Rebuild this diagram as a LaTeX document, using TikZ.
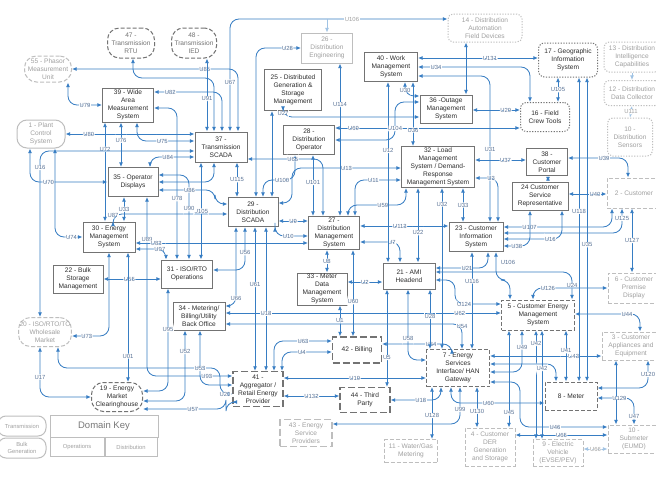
\documentclass[tikz,border=0pt]{standalone}
\usepackage{fontspec}
\setmainfont{Liberation Sans}
\usetikzlibrary{arrows.meta}
\definecolor{lnc}{RGB}{55,125,195}
\definecolor{lnfc}{RGB}{160,195,228}
\definecolor{bxc}{RGB}{115,115,115}
\definecolor{txc}{RGB}{45,45,45}
\definecolor{fdc}{RGB}{190,190,190}
\definecolor{fdtc}{RGB}{160,160,160}
\definecolor{labc}{RGB}{90,115,150}
\tikzset{
  box/.style={draw=bxc, line width=1pt, fill=white, text=txc, align=center, font=\fontsize{6.6}{7.9}\selectfont, inner sep=1pt},
  sz/.style 2 args={minimum width=#1pt, minimum height=#2pt},
  fade/.style={draw=fdc, text=fdtc},
  dsh/.style={dash pattern=on 4pt off 2pt},
  ldsh/.style={dash pattern=on 7pt off 3pt, line width=1.2pt},
  dot/.style={dash pattern=on 1.2pt off 1.5pt},
  ell/.style={rounded corners=12pt},
  ln/.style={draw=lnc, line width=0.85pt, rounded corners=9pt},
  lnf/.style={draw=lnfc, line width=0.75pt, rounded corners=9pt},
  lb/.style={font=\fontsize{5.9}{6}\selectfont, text=labc, fill=white, inner sep=0.5pt},
  lbf/.style={lb, text=fdtc},
  >={Latex[length=4.6pt,width=3.9pt]},
}
\begin{document}
\begin{tikzpicture}[x=1pt,y=-1pt]
\useasboundingbox (0,0) rectangle (656,479);
\fill[white] (0,0) rectangle (656,479);

% ---------------- nodes ----------------
\node[box,fade,dsh,ell,sz={47}{26}] (n55) at (48,69) {55 - Phasor\\Measurement\\Unit};
\node[box,dsh,ell,sz={47}{30},text=bxc] (n47) at (131,43) {47 -\\Transmission\\RTU};
\node[box,dsh,ell,sz={45}{30},text=bxc] (n48) at (194,43) {48 -\\Transmission\\IED};
\node[box,fade,sz={51}{30}] (n26) at (327,48) {26 -\\Distribution\\Engineering};
\node[box,fade,dot,rounded corners=5pt,sz={74}{28}] (n14) at (485,28) {14 - Distribution\\Automation\\Field Devices};
\node[box,sz={53}{29}] (n40) at (391,67) {40 - Work\\Management\\System};
\node[box,dot,rounded corners=6pt,sz={59}{34}] (n17) at (568,60) {17 - Geographic\\Information\\System};
\node[box,fade,dot,rounded corners=5pt,sz={56}{30}] (n13) at (632,57) {13 - Distribution\\Intelligence\\Capabilities};
\node[box,fade,dot,rounded corners=5pt,sz={56}{25}] (n12) at (632,93) {12 - Distribution\\Data Collector};
\node[box,fade,dot,rounded corners=5pt,sz={45}{38}] (n10d) at (630,137) {10 -\\Distribution\\Sensors};
\node[box,dot,rounded corners=6pt,sz={49}{29}] (n16) at (545,117) {16 - Field\\Crew Tools};
\node[box,sz={51}{34}] (n39) at (128,105) {39 - Wide\\Area\\Measurement\\System};
\node[box,fade,rounded corners=10pt,sz={48}{28}] (n1) at (41,134) {1 - Plant\\Control\\System};
\node[box,sz={52}{30}] (n37) at (221,147) {37 -\\Transmission\\SCADA};
\node[box,sz={57}{41}] (n25) at (293,90) {25 - Distributed\\Generation \&\\Storage\\Management};
\node[box,sz={51}{29}] (n28) at (309,140) {28 -\\Distribution\\Operator};
\node[box,sz={52}{28}] (n36) at (446,109) {36 -Outage\\Management\\System};
\node[box,sz={73}{41}] (n32) at (438,167) {32 - Load\\Management\\System / Demand-\\Response\\Management System};
\node[box,sz={50}{29}] (n35) at (133,182) {35 - Operator\\Displays};
\node[box,sz={52}{30}] (n30) at (109,237) {30 - Energy\\Management\\System};
\node[box,sz={50}{28}] (n22) at (78,279) {22 - Bulk\\Storage\\Management};
\node[box,sz={50}{29}] (n29) at (253,212) {29 -\\Distribution\\SCADA};
\node[box,sz={51}{33}] (n27) at (334,233) {27 -\\Distribution\\Management\\System};
\node[box,sz={51}{28}] (n31) at (187,274) {31 - ISO/RTO\\Operations};
\node[box,sz={52}{28}] (n34) at (199,316) {34 - Metering/\\Billing/Utility\\Back Office};
\node[box,sz={50}{32}] (n33) at (322,289) {33 - Meter\\Data\\Management\\System};
\node[box,sz={52}{26}] (n21) at (409,276) {21 - AMI\\Headend};
\node[box,sz={54}{29}] (n23) at (476,237) {23 - Customer\\Information\\System};
\node[box,sz={41}{27}] (n38) at (547,162) {38 -\\Customer\\Portal};
\node[box,sz={56}{28}] (n24) at (540,196) {24 Customer\\Service\\Representative};
\node[box,fade,dsh,sz={54}{30}] (n2) at (634,193) {2 - Customer};
\node[box,fade,dsh,sz={52}{30}] (n6) at (634,288) {6 - Customer\\Premise\\Display};
\node[box,dsh,sz={73}{30}] (n5) at (538,315) {5 - Customer Energy\\Management\\System};
\node[box,fade,dsh,sz={58}{28}] (n3) at (631,346) {3 - Customer\\Appliances and\\Equipment};
\node[box,dsh,sz={52}{28}] (n8) at (571,396) {8 - Meter};
\node[box,fade,dsh,sz={52}{28}] (n10s) at (634,439) {10 -\\Submeter\\(EUMD)};
\node[box,fade,dsh,sz={50}{27}] (n9) at (558,453) {9 - Electric\\Vehicle\\(EVSE/PEV)};
\node[box,fade,dsh,sz={50}{38}] (n4) at (490,447) {4 - Customer\\DER\\Generation\\and Storage};
\node[box,fade,dsh,sz={53}{23}] (n11) at (411,451) {11 - Water/Gas\\Metering};
\node[box,dsh,sz={63}{37}] (n7) at (458,368) {7 - Energy\\Services\\Interface/ HAN\\Gateway};
\node[box,ldsh,sz={49}{26}] (n42) at (357,350) {42 - Billing};
\node[box,ldsh,sz={50}{25}] (n44) at (365,400) {44 - Third\\Party};
\node[box,ldsh,sz={50}{35}] (n41) at (258,389) {41 -\\Aggregator /\\Retail Energy\\Provider};
\node[box,fade,ldsh,sz={52}{27}] (n43) at (306,433) {43 - Energy\\Service\\Providers};
\node[box,fade,dsh,ell,sz={50}{29}] (n20) at (45,332) {20 - ISO/RTO/TO\\Wholesale\\Market};
\node[box,dsh,ell,sz={51}{29}] (n19) at (117,397) {19 - Energy\\Market\\Clearinghouse};
% domain key
\node[box,fade,sz={108}{22},font=\fontsize{9.5}{11}\selectfont,text={rgb,255:red,120;green,120;blue,120}] (kdk) at (104,426) {Domain Key};
\node[box,fade,sz={54}{19},font=\fontsize{5.8}{7}\selectfont] (kop) at (77,447) {Operations};
\node[box,fade,sz={52}{19},font=\fontsize{5.8}{7}\selectfont] (kdi) at (131,447) {Distribution};
\node[box,fade,rounded corners=8pt,sz={48}{20},font=\fontsize{5.8}{7}\selectfont] (ktr) at (22,426) {Transmission};
\node[box,fade,rounded corners=8pt,sz={48}{20},font=\fontsize{5.8}{6.5}\selectfont] (kbg) at (22,448) {Bulk\\Generation};

% ---------------- connectors: transmission / operations ----------------
\draw[ln,<->] (68,0 |- n55.south) |- node[lb,pos=0.75]{U79} (n39.west);
\draw[ln,<->] (n55.east) -| node[lb,pos=0.4]{U85} (238,0 |- n37.north);
\draw[ln,<->] (n39.east |- 0,92) -| node[lb,pos=0.12]{U82} (222,0 |- n37.north);
\draw[ln,<->] (133,0 |- n47.south) -- (133,78) -| (214,0 |- n37.north);
\draw[ln,<->] (207,0 |- n48.south) -- node[lb,pos=0.55]{U91} (207,0 |- n37.north);
\draw[ln,<->] (230,0 |- n37.north) |- node[lb,pos=0.22]{U67} (n14.west |- 0,19);
\draw[lnf,->] (n26.north |- 0,19) -- (n26.north);
\node[lbf] at (352,19) {U106};
\draw[ln,<->] (n1.east) -- node[lb,pos=0.18]{U80} (n37.west |- n1.east);
\draw[ln,<->] (137,0 |- n39.south) |- node[lb,pos=0.72]{U75} (n37.west |- 0,141);
\draw[ln,<->] (105,0 |- n39.south) -- node[lb,pos=0.27]{U72} (105,0 |- n30.north);
\draw[ln,<->] (121,0 |- n39.south) -- node[lb,pos=0.4]{U76} (121,0 |- n35.north);
\draw[ln,<->] (150,0 |- n35.north) |- node[lb,pos=0.7]{U84} (n37.west |- 0,157);
\draw[ln,<->] (n37.west |- 0,151) -| node[lb,pos=0.55]{U16} (40,0 |- n20.north);
\draw[ln,<->] (30,0 |- n1.south) |- node[lb,pos=0.62]{U70} (n35.west |- 0,182);
\draw[ln,<->] (55,0 |- n1.south) |- node[lb,pos=0.8]{U74} (n30.west |- 0,237);
\draw[ln,<->] (124,0 |- n35.south) -- node[lb]{U33} (124,0 |- n30.north);
\draw[ln,<->] (147,0 |- n35.south) |- node[lb,pos=0.12]{U89} node[lb,pos=0.85]{U93} (n41.west |- 0,376);
\draw[ln,<->] (n29.west |- 0,214) -| node[lb,pos=0.62]{U87} (113,0 |- n30.north);
\draw[ln,<->] (n30.east |- 0,243) -- node[lb,pos=0.12]{U83} (n27.west |- 0,243);
\draw[ln,<->] (n30.east |- 0,249) -| node[lb,pos=0.4]{U97} (166,0 |- n31.north);
\draw[ln,<->] (n22.east) -- node[lb,pos=0.45]{U55} (n31.west |- n22.east);
\draw[ln,<->] (109,0 |- n30.south) |- node[lb,pos=0.8]{U73} (n20.east |- 0,336);
\draw[ln,<->] (128,0 |- n30.south) -- node[lb,pos=0.8]{U01} (128,0 |- n19.north);
\draw[ln,<->] (40,0 |- n20.south) |- node[lb,pos=0.3]{U17} (n19.west);
\draw[ln,<->] (58,0 |- n20.south) |- (220,368) |- node[lb,pos=0.7]{U20} (n41.west |- 0,394);
\draw[ln,<->] (n19.east |- 0,391) -| node[lb,pos=0.8]{U95} (168,0 |- n31.south);
\draw[ln,<->] (n19.east |- 0,401) -| node[lb,pos=0.85]{U52} (185,0 |- n34.south);
\draw[ln,<->] (n19.east |- 0,409) -- node[lb,pos=0.6]{U57} (226,409) |- (n41.west |- 0,402);
\draw[ln,<->] (200,0 |- n34.south) |- node[lb,pos=0.35]{U53} (n41.west |- 0,385);

% ---------------- 37 / 29 / 31 ----------------
\draw[ln,<->] (237,0 |- n37.south) -- node[lb]{U115} (237,0 |- n29.north);
\draw[ln,<->] (201,0 |- n37.south) -- node[lb,pos=0.5]{U105} (201,0 |- n31.north);
\draw[ln,<->] (189,0 |- n31.north) |- node[lb,pos=0.3]{U90} (n35.east |- 0,175);
\draw[ln,<->] (n39.east |- 0,108) -| node[lb,pos=0.8]{U78} (177,0 |- n31.north);
\draw[ln,<->] (n35.east) -| (214,0 |- n37.south);
\draw[ln,<->] (n35.east |- 0,190) -- node[lb,pos=0.55]{U86} (215,190) |- (n29.west |- 0,204);

% ---------------- 29 / 28 / 27 ----------------
\draw[ln,<->] (263,0 |- n29.north) -- (263,180) -| node[lb,pos=0.3]{U100} (295,0 |- n28.south);
\draw[ln,<->] (313,0 |- n28.south) -- node[lb,pos=0.45]{U101} (313,0 |- n27.north);
\draw[ln,<->] (n37.east |- 0,159) -| node[lb,pos=0.3]{U65} (323,0 |- n27.north);
\draw[ln,<->] (256,0 |- n29.north) |- node[lb,pos=0.85]{U28} (n26.west);
\draw[ln,<->] (272,0 |- n25.south) -- (272,0 |- n29.north);
\draw[ln,<->] (283,0 |- n25.south) |- node[lb,pos=0.2]{U27} (n36.west |- 0,117);
\draw[ln,<->] (n29.east |- 0,203) -- (292,203) |- node[lb,pos=0.75]{U13} (n32.west |- 0,168);
\draw[ln,<->] (n29.east |- 0,221) -- node[lb]{U9} (n27.west |- 0,221);
\draw[ln,<->] (275,0 |- n29.south) |- node[lb,pos=0.7]{U10} (n27.west |- 0,236);
\draw[ln,<->] (327,0 |- n27.south) -- node[lb]{U8} (327,0 |- n33.north);
\draw[ln,<->] (340,0 |- n26.south) -- node[lb,pos=0.27]{U114} (340,0 |- n27.north);
\draw[ln,<->] (406,0 |- n32.south) -- (406,205) -| node[lb,pos=0.2]{U59} (348,0 |- n27.north);
\draw[ln,<->] (355,0 |- n27.north) |- node[lb,pos=0.7]{U11} (n32.west |- 0,180);
\draw[ln,<->] (n27.east |- 0,226) -- node[lb,pos=0.45]{U113} (n23.west |- 0,226);
\draw[ln,<->] (n27.east |- 0,242) -| node[lb,pos=0.4]{U7} (400,0 |- n21.north);
\draw[ln,<->] (418,0 |- n32.south) -- node[lb,pos=0.6]{U22} (418,0 |- n21.north);
\draw[ln,<->] (442,0 |- n32.south) -- node[lb,pos=0.1]{U32} (442,0 |- n7.north);
\draw[ln,<->] (463,0 |- n32.south) -- node[lb]{U33} (463,0 |- n23.north);
\draw[ln,<->] (388,0 |- n40.south) -- node[lb,pos=0.38]{U12} (388,0 |- n21.north);
\draw[ln,<->] (n33.east |- 0,282) -- node[lb]{U2} (n21.west |- 0,282);

% ---------------- 21 / 23 / 33 / 42 / 41 / 44 / 7 ----------------
\draw[ln,<->] (n21.east |- 0,268) -| node[lb,pos=0.3]{U21} (488,0 |- n23.south);
\draw[ln,<->] (n21.east |- 0,272) -| node[lb,pos=0.75]{U24} (572,0 |- n5.north);
\draw[ln,<->] (n21.east |- 0,280) -- (455,280) |- node[lb,pos=0.6]{U124} (n5.west |- 0,304);
\draw[ln,<->] (472,0 |- n23.south) -- node[lb,pos=0.3]{U116} (472,0 |- n7.north);
\draw[ln,<->] (496,0 |- n23.south) -- (496,280) -| (510,0 |- n5.north);
\node[lb] at (508,262) {U106};
\draw[ln,<->] (n34.east |- 0,313) -- node[lb,pos=0.85]{U62} (n5.west |- 0,313);
\draw[ln,<->] (236,0 |- n29.south) |- node[lb,pos=0.45]{U66} (n34.east |- 0,306);
\draw[ln,<->] (245,0 |- n29.south) |- node[lb,pos=0.3]{U56} (n31.east |- 0,270);
\draw[ln,<->] (255,0 |- n29.south) -- node[lb,pos=0.4]{U61} (255,0 |- n41.north);
\draw[ln,<->] (266,0 |- n29.south) -- node[lb,pos=0.6]{U18} (266,0 |- n41.north);
\draw[ln,<->] (274,0 |- n41.north) |- node[lb,pos=0.75]{U63} (n42.west |- 0,341);
\draw[ln,<->] (282,0 |- n41.north) |- node[lb,pos=0.7]{U4} (n42.west |- 0,352);
\draw[ln,<->] (340,0 |- n33.south) -- node[lb]{U1} (340,0 |- n42.north);
\draw[ln,<->] (353,0 |- n27.south) -- node[lb,pos=0.6]{U60} (353,0 |- n42.north);
\draw[ln,<->] (n34.east |- 0,324) -| node[lb,pos=0.55]{U54} (462,0 |- n7.north);
\draw[ln,<->] (n42.east |- 0,344) -| node[lb,pos=0.35]{U64} (452,0 |- n7.north);
\draw[ln,<->] (387,0 |- n21.south) -- node[lb,pos=0.7]{U5} (387,0 |- n44.north);
\draw[ln,<->] (408,0 |- n21.south) |- node[lb,pos=0.35]{U58} (n7.west |- 0,360);
\draw[ln,<->] (430,0 |- n21.south) -- node[lb,pos=0.45]{U28} (430,0 |- n7.north);
\draw[ln,<->] (n41.east |- 0,396) -- node[lb]{U132} (n44.west |- 0,396);
\draw[ln,<->] (n41.east |- 0,378) -- node[lb,pos=0.5]{U19} (n7.west |- 0,378);
\draw[ln,<->] (441,0 |- n7.south) |- node[lb,pos=0.7]{U18} (n44.east);
\draw[ln,<->] (432,0 |- n7.south) -- node[lb,pos=0.55]{U128} (432,0 |- n11.north);
\draw[ln,<->] (460,0 |- n7.south) |- node[lb,pos=0.3]{U99} (n43.east |- 0,424);
\draw[ln,<->] (477,0 |- n7.south) -- node[lb,pos=0.6]{U130} (477,0 |- n4.north);
\draw[ln,<->] (451,0 |- n7.south) |- node[lb,pos=0.7]{U60} (n8.west |- 0,403);

% ---------------- customer side ----------------
\draw[ln,<->] (n7.east |- 0,356) -- node[lb,pos=0.75]{U43} (n3.west |- 0,356);
\draw[ln,<->] (n7.east |- 0,364) -| (556,0 |- n8.north);
\draw[ln,<->] (n7.east |- 0,372) -| node[lb,pos=0.8]{U49} (522,0 |- n5.south);
\draw[ln,<->] (n7.east |- 0,382) -- (520,382) |- node[lb,pos=0.7]{U46} (n10s.west |- 0,427);
\draw[ln,<->] (509,0 |- n5.south) -- node[lb,pos=0.85]{U45} (509,0 |- n4.north);
\draw[ln,<->] (536,0 |- n5.south) -- node[lb,pos=0.12]{U42} (536,0 |- n9.north);
\draw[ln,<->] (542,0 |- n5.south) -- node[lb,pos=0.35]{U42} (542,0 |- n9.north);
\draw[ln,<->] (566,0 |- n5.south) -- node[lb,pos=0.4]{U41} (566,0 |- n8.north);
\draw[ln,<->] (587,0 |- n17.south) -- node[lb,pos=0.55]{U35} (587,0 |- n8.north);
\draw[ln,<->] (579,0 |- n17.south) -- node[lb,pos=0.44]{U118} (579,0 |- n8.north);
\draw[ln,<->] (558,0 |- n17.south) -- node[lb]{U105} (558,0 |- n16.north);
\draw[ln,<->] (n40.east |- 0,58) -- node[lb,pos=0.6]{U131} (n17.west |- 0,58);
\draw[ln,<->] (n40.east |- 0,67) -| node[lb,pos=0.08]{U34} (530,0 |- n16.north);
\draw[ln,<->] (n40.east |- 0,76) -| node[lb,pos=0.75]{U31} (490,0 |- n23.north);
\draw[ln,<->] (n32.east |- 0,178) -| node[lb,pos=0.35]{U3} (498,0 |- n23.north);
\draw[ln,<->] (n32.east |- 0,160) -- node[lb,pos=0.6]{U37} (n38.west |- 0,160);
\draw[ln,<->] (n36.east |- 0,110) -- node[lb,pos=0.7]{U29} (n16.west |- 0,110);
\draw[ln,<->] (n28.east |- 0,128) -- node[lb,pos=0.1]{U69} (n16.west |- 0,128);
\draw[ln,<->] (n28.east |- 0,140) -- (395,140) |- node[lb,pos=0.15]{U104} (n36.west |- 0,102);
\draw[ln,<->] (405,0 |- n40.south) |- node[lb,pos=0.3]{U30} (n36.west |- 0,96);
\draw[ln,<->] (413,0 |- n40.south) -- node[lb,pos=0.75]{U36} (413,0 |- n32.north);
\draw[ln,<->] (466,0 |- n14.south) -- (466,0 |- n36.north);
\draw[ln,<->] (548,0 |- n38.south) -- (548,0 |- n24.north);
\draw[ln,<->] (n38.east |- 0,158) -| node[lb,pos=0.3]{U39} (628,0 |- n2.north);
\draw[ln,<->] (n24.east |- 0,194) -- node[lb,pos=0.7]{U40} (n2.west |- 0,194);
\draw[ln,<->] (n23.east |- 0,227) -| node[lb,pos=0.12]{U107} (612,0 |- n2.south);
\draw[ln,<->] (n23.east |- 0,233) -| node[lb,pos=0.8]{U125} (622,0 |- n2.south);
\draw[ln,<->] (n23.east |- 0,239) -| node[lb,pos=0.4]{U16} (562,0 |- n24.south);
\draw[ln,<->] (n23.east |- 0,246) -| node[lb,pos=0.25]{U38} (530,0 |- n24.south);
\draw[ln,<->] (632,0 |- n2.south) -- node[lb]{U127} (632,0 |- n6.north);
\draw[ln,<->] (533,0 |- n5.north) |- node[lb,pos=0.6]{U126} (n6.west |- 0,288);
\draw[ln,<->] (n5.east |- 0,314) -| node[lb,pos=0.4]{U44} (640,0 |- n3.north);
\draw[ln,<->] (616,0 |- n3.south) -- (616,0 |- n10s.north);
\draw[ln,<->] (648,0 |- n3.south) |- node[lb,pos=0.25]{U120} (n8.east |- 0,388);
\draw[ln,<->] (n8.east |- 0,398) -| node[lb,pos=0.3]{U129} node[lb,pos=0.85]{U47} (634,0 |- n10s.north);
\draw[ln,<->] (n4.east |- 0,435) -- node[lb,pos=0.5]{U65} (n10s.west |- 0,435);
\draw[lnf,<->] (n9.east |- 0,449) -- node[lbf]{U66} (n10s.west |- 0,449);
\draw[lnf,->] (n13.south) -- (n12.north);
\draw[lnf,<->] (n12.south) -- node[lbf]{U111} (n10d.north);
\end{tikzpicture}
\end{document}
